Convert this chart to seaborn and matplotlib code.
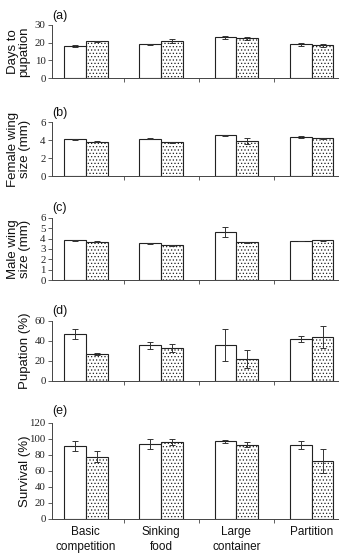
import numpy as np
import pandas as pd
import matplotlib
matplotlib.use("Agg")
import matplotlib.pyplot as plt
import seaborn as sns

categories = ["Basic\ncompetition", "Sinking\nfood", "Large\ncontainer", "Partition"]
treatments = ["Control", "Treatment"]

days_ctrl = [18.2, 19.0, 23.0, 19.0]
days_trt = [20.7, 20.9, 22.5, 18.6]
days_err_ctrl = [0.7, 0.3, 0.7, 0.8]
days_err_trt = [0.4, 1.0, 0.8, 0.8]

fwing_ctrl = [4.1, 4.15, 4.55, 4.35]
fwing_trt = [3.82, 3.75, 3.9, 4.2]
fwing_err_ctrl = [0.06, 0.04, 0.06, 0.1]
fwing_err_trt = [0.04, 0.03, 0.3, 0.05]

mwing_ctrl = [3.85, 3.55, 4.65, 3.75]
mwing_trt = [3.72, 3.35, 3.65, 3.85]
mwing_err_ctrl = [0.03, 0.05, 0.5, 0.02]
mwing_err_trt = [0.02, 0.03, 0.05, 0.06]

pup_ctrl = [47, 36, 36, 42]
pup_trt = [27, 33, 22, 44]
pup_err_ctrl = [5, 3.5, 16, 3]
pup_err_trt = [1, 4, 9, 11]

surv_ctrl = [91, 94, 97, 93]
surv_trt = [78, 96, 93, 72]
surv_err_ctrl = [6, 6, 2, 5]
surv_err_trt = [7, 4, 3, 15]

panels = [
    ("(a)", "Days to\npupation", days_ctrl, days_trt, days_err_ctrl, days_err_trt, [0, 10, 20, 30]),
    ("(b)", "Female wing\nsize (mm)", fwing_ctrl, fwing_trt, fwing_err_ctrl, fwing_err_trt, [0, 2, 4, 6]),
    ("(c)", "Male wing\nsize (mm)", mwing_ctrl, mwing_trt, mwing_err_ctrl, mwing_err_trt, [0, 1, 2, 3, 4, 5, 6]),
    ("(d)", "Pupation (%)", pup_ctrl, pup_trt, pup_err_ctrl, pup_err_trt, [0, 20, 40, 60]),
    ("(e)", "Survival (%)", surv_ctrl, surv_trt, surv_err_ctrl, surv_err_trt, [0, 20, 40, 60, 80, 100, 120]),
]

sns.set_style("ticks")
plt.rcParams["hatch.linewidth"] = 0.5
plt.rcParams["hatch.color"] = "black"

W, H = 346, 554
fig = plt.figure(figsize=(W / 100, H / 100), dpi=100)

# (top_px, bottom_px)
rects = [(25, 78), (122, 176), (218, 280), (321, 381), (423, 519)]
left_px, right_px = 52, 338

sans = "Liberation Sans"
serif = "Liberation Serif"

for i, (lab, ylab, c, t, ec, et, yt) in enumerate(panels):
    top, bot = rects[i]
    ax = fig.add_axes([left_px / W, 1 - bot / H, (right_px - left_px) / W, (bot - top) / H])
    df = pd.DataFrame({
        "cat": categories * 2,
        "trt": [treatments[0]] * 4 + [treatments[1]] * 4,
        "val": list(c) + list(t),
    })
    sns.barplot(data=df, x="cat", y="val", hue="trt", ax=ax, errorbar=None,
                width=0.58, palette=["white", "white"], edgecolor="#222222",
                linewidth=0.8, legend=False, gap=0)
    errs = [ec, et]
    bar_conts = list(ax.containers)
    for k, cont in enumerate(bar_conts):
        for j, p in enumerate(cont.patches):
            if k == 1:
                p.set_hatch(".....")
            xc = p.get_x() + p.get_width() / 2
            ax.errorbar(xc, p.get_height(), yerr=errs[k][j], fmt="none",
                        ecolor="#333333", elinewidth=0.7, capsize=2, capthick=0.7)
    ax.set_xlim(-0.45, 3.35)
    ax.set_ylim(0, yt[-1])
    ax.set_yticks(yt)
    ax.set_yticklabels([str(v) for v in yt], fontfamily=serif, fontsize=7.8, color="#222222")
    ax.tick_params(axis="y", length=3, width=0.6, pad=1.5, color="#444444")
    ax.set_xticks(range(4))
    if i == 4:
        ax.set_xticklabels(categories, fontfamily=sans, fontsize=8.5, color="#111111",
                           linespacing=1.35)
    else:
        ax.set_xticklabels([])
    ax.tick_params(axis="x", which="major", length=0, pad=5)
    ax.set_xticks([0.5, 1.5, 2.5], minor=True)
    ax.tick_params(axis="x", which="minor", length=3, width=0.6, color="#444444")
    ax.set_xlabel("")
    ax.set_ylabel(ylab, fontfamily=sans, fontsize=9.5, color="#111111", linespacing=1.0)
    ax.yaxis.set_label_coords(-0.075, 0.5)
    for s in ["top", "right"]:
        ax.spines[s].set_visible(False)
    for s in ["left", "bottom"]:
        ax.spines[s].set_linewidth(0.7)
        ax.spines[s].set_color("#444444")
    ax.text(0.0, 1.06, lab, transform=ax.transAxes, fontfamily=sans, fontsize=9,
            ha="left", va="bottom", color="#111111")

fig.savefig("out.png", dpi=100)
